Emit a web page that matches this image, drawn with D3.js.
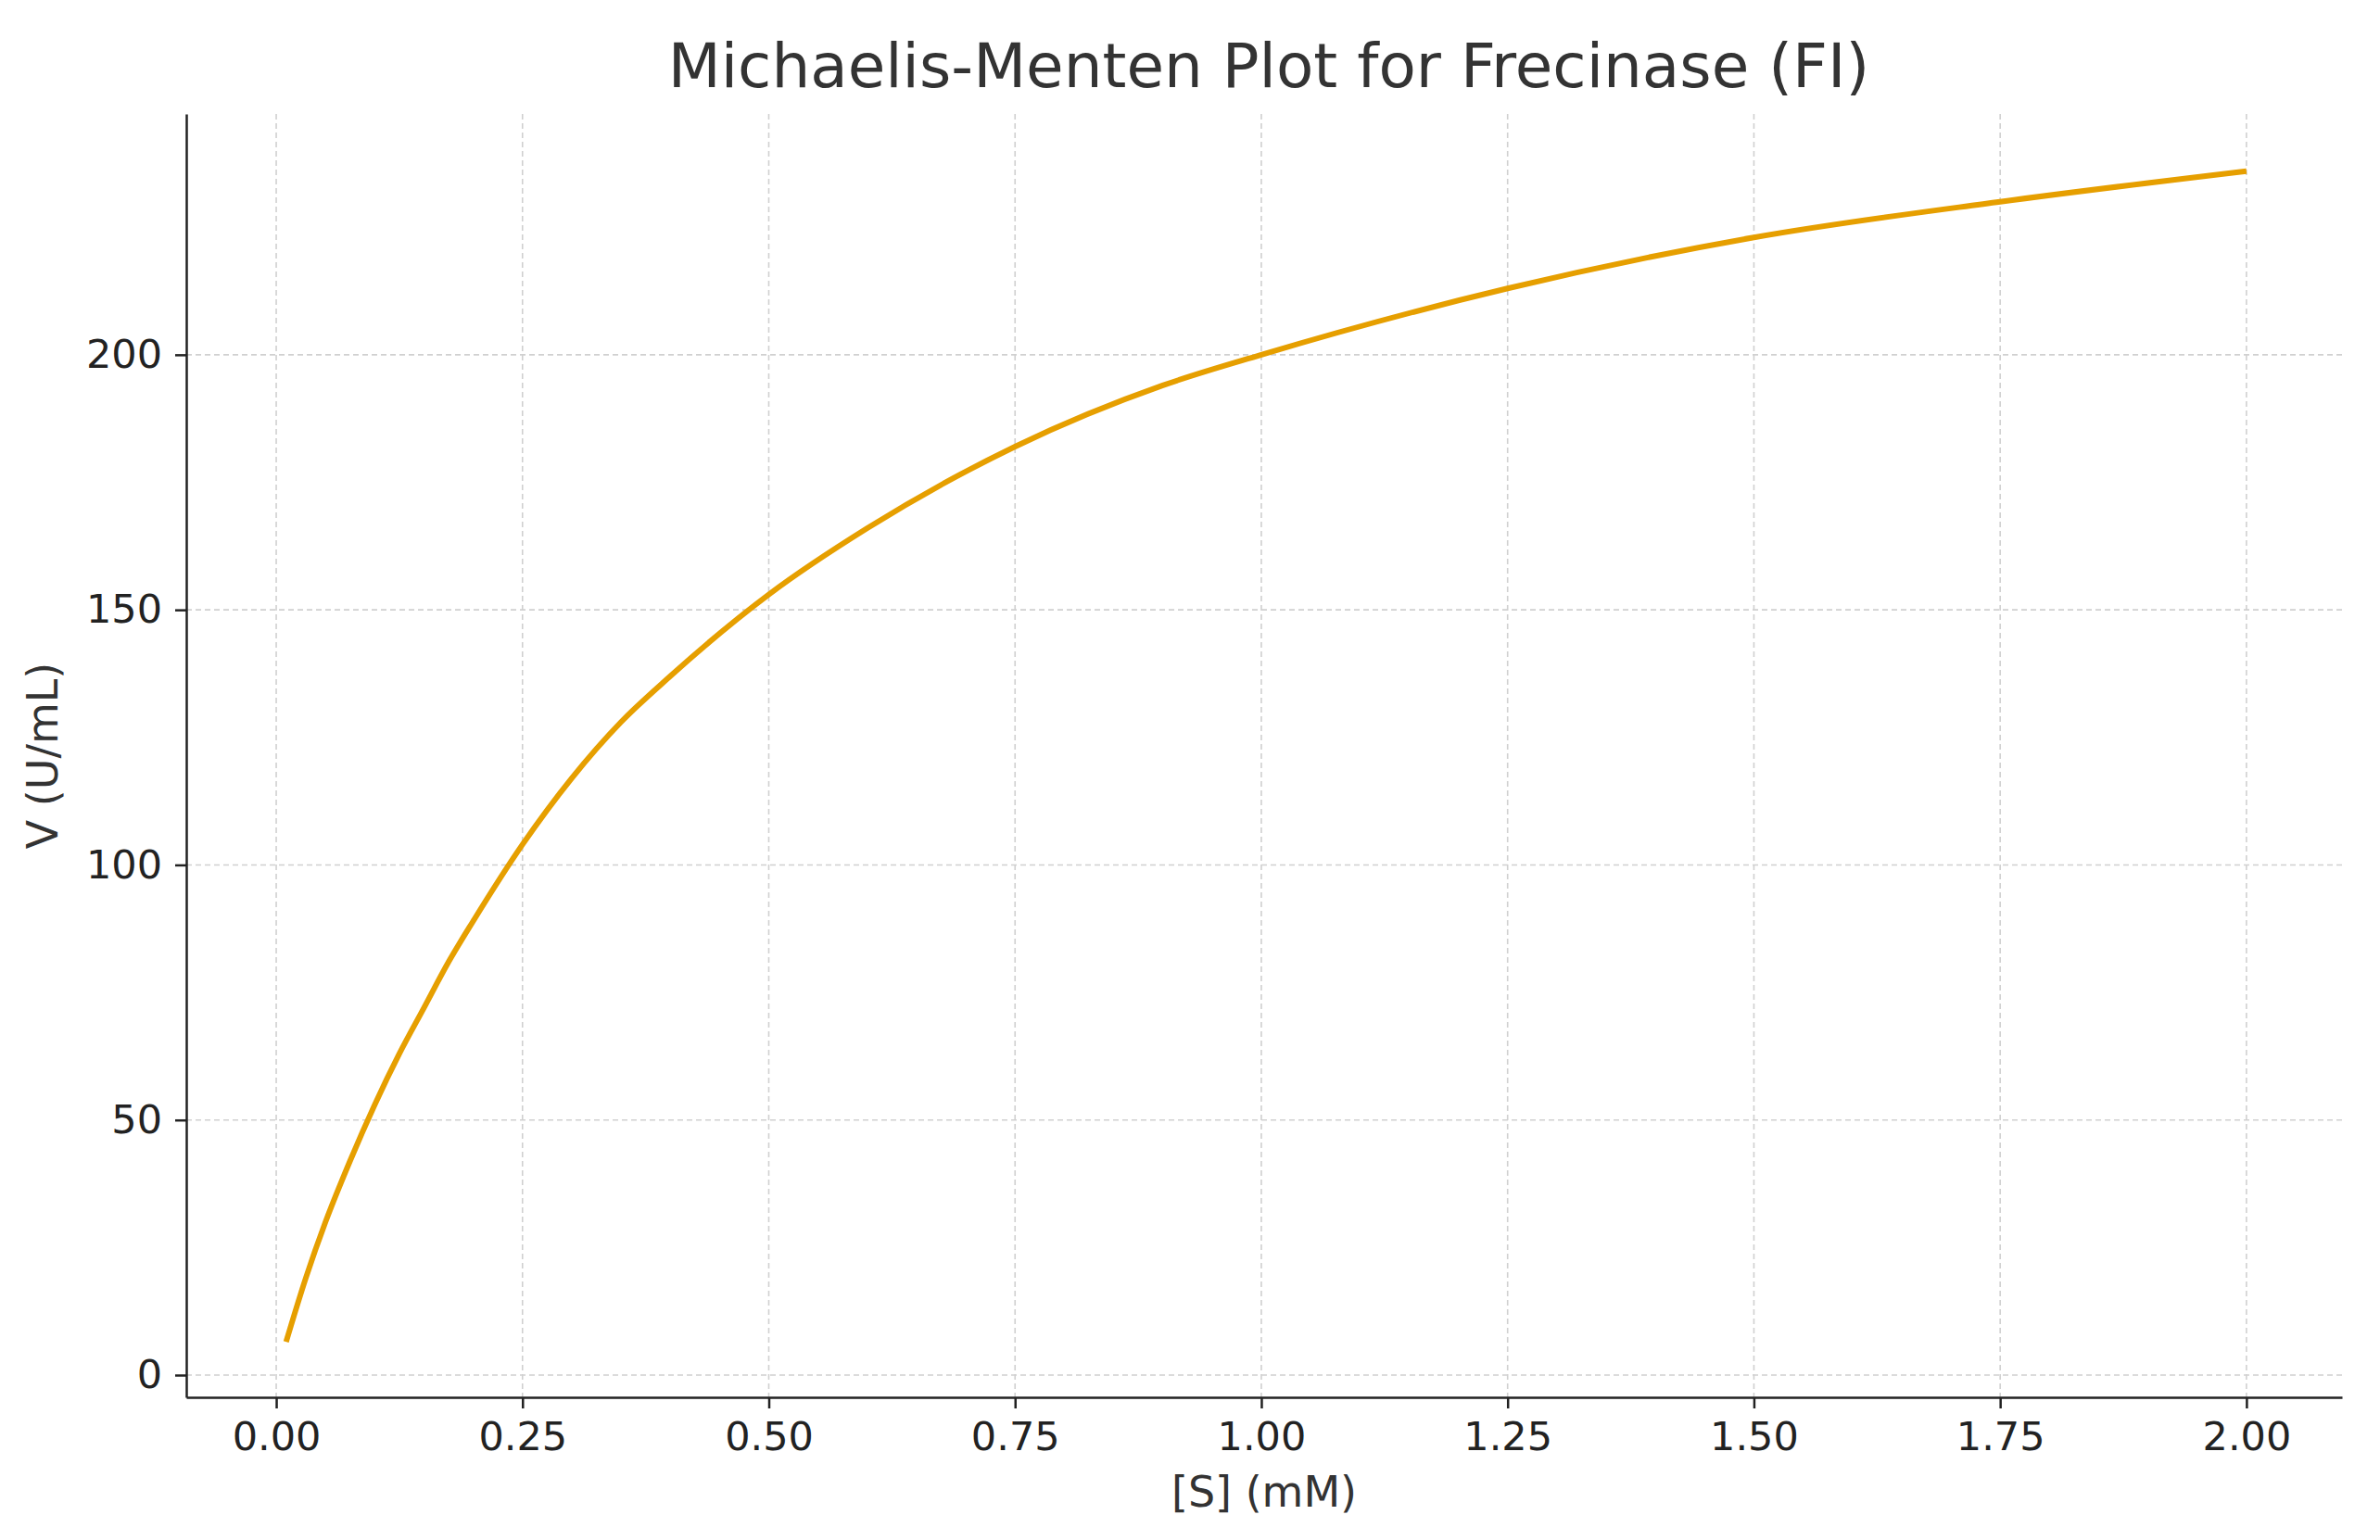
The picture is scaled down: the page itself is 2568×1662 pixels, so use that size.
<!DOCTYPE html>
<html><head><meta charset="utf-8">
<script src="https://cdn.jsdelivr.net/npm/d3@7"></script>
<style>body{margin:0;background:#fff}svg text{font-family:"DejaVu Sans",sans-serif;fill:#333}</style>
</head><body>
<svg id="chart" width="2568" height="1662"></svg>
<script>
// values
const substrate = [0.01,0.03,0.05,0.075,0.1,0.125,0.15,0.175,0.2,0.25,0.3,0.35,0.4,0.5,0.6,0.75,0.9,1.0,1.25,1.5,1.75,2.0];
const velocity  = [6.5,19,30,42,53,63,72,81,89,104,117,128,137,153,166,182,194,200,213,223,230,236];
const xTicks = [0,0.25,0.5,0.75,1,1.25,1.5,1.75,2];
const yTicks = [0,50,100,150,200];

const svg = d3.select('#chart');
const L = 201, R = 2527, T = 123, B = 1508;
const x = d3.scaleLinear().domain([-0.0913, 2.097]).range([L, R]);
const y = d3.scaleLinear().domain([-4.36, 247.2]).range([B, T]);

const grid = svg.append('g').attr('stroke','#d0d0d0').attr('stroke-width',1.6).attr('stroke-dasharray','6,4');
grid.selectAll('.gx').data(xTicks).join('line').attr('x1',d=>x(d)).attr('x2',d=>x(d)).attr('y1',T).attr('y2',B);
grid.selectAll('.gy').data(yTicks).join('line').attr('x1',L).attr('x2',R).attr('y1',d=>y(d)).attr('y2',d=>y(d));

const xa = svg.append('g').attr('transform',`translate(0,${B})`)
  .call(d3.axisBottom(x).tickValues(xTicks).tickFormat(d3.format('.2f')).tickSizeInner(12).tickSizeOuter(0).tickPadding(14));
const ya = svg.append('g').attr('transform',`translate(${L},0)`)
  .call(d3.axisLeft(y).tickValues(yTicks).tickSizeInner(12).tickSizeOuter(0).tickPadding(14));
[xa,ya].forEach(a=>{
  a.selectAll('text').attr('font-size',43).style('fill','#222');
  a.selectAll('line,path').attr('stroke','#222').attr('stroke-width',2.5);
});

const line = d3.line().x((d,i)=>x(substrate[i])).y(d=>y(d)).curve(d3.curveMonotoneX);
svg.append('path').datum(velocity).attr('d',line).attr('fill','none')
  .attr('stroke','#E69F00').attr('stroke-width',6);

svg.append('text').attr('x',(L+R)/2 + 5).attr('y',94).attr('text-anchor','middle').attr('font-size',66).text('Michaelis-Menten Plot for Frecinase (FI)');
svg.append('text').attr('x',(L+R)/2).attr('y',1626).attr('text-anchor','middle').attr('font-size',46).text('[S] (mM)');
svg.append('text').attr('transform',`translate(62,${(T+B)/2}) rotate(-90)`).attr('text-anchor','middle').attr('font-size',46).text('V (U/mL)');
</script>
</body></html>
